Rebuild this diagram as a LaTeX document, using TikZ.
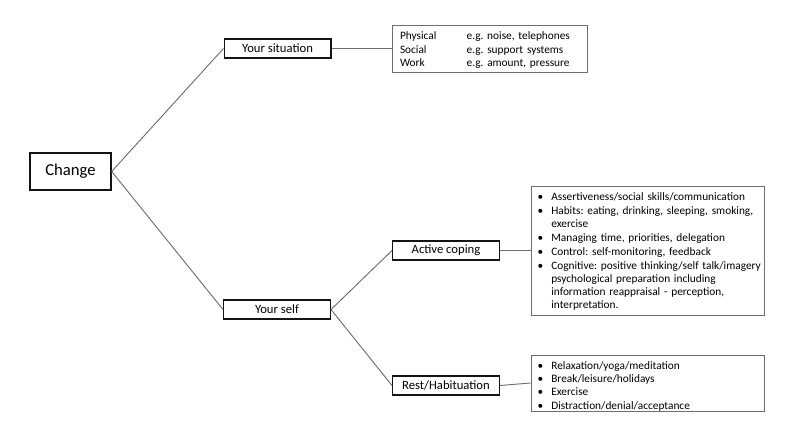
\documentclass[tikz,border=0pt]{standalone}
\usepackage{fontspec}
\setmainfont{Carlito}
\usetikzlibrary{positioning}
\frenchspacing
\definecolor{mydark}{RGB}{20,20,20}
\definecolor{mygrey}{RGB}{110,110,110}
\tikzset{
  catbox/.style={rectangle, draw=mydark, line width=1pt, minimum width=80pt, minimum height=14.25pt, inner sep=0pt, font=\fontsize{9.5}{11}\selectfont},
  infobox/.style={rectangle, draw=mygrey, line width=0.7pt, align=left, inner xsep=5pt, inner ysep=1pt, font=\fontsize{8.5}{10.2}\selectfont},
  line/.style={draw=mygrey, line width=0.7pt}
}
\newcommand{\bul}{\textbullet}
\newcommand{\lowered}[2]{\raisebox{-#1}[\height][\depth]{#2}}

\begin{document}
\begin{tikzpicture}[x=0.75pt, y=-0.75pt]
  \useasboundingbox (0,0) rectangle (800,443);

  % Main node
  \node[catbox, minimum width=60.75pt, minimum height=27.75pt, font=\fontsize{12.5}{14}\selectfont] (change) at (70.5,171.5) {Change};

  % Two branches
  \node[catbox] (situation) at (277.5,48.5) {Your situation};
  \node[catbox] (self) at (277,309.5) {Your self};

  % Coping strategies
  \node[catbox] (active) at (446,250.5) {Active coping};
  \node[catbox] (rest) at (446,385.5) {Rest/Habituation};

  % Detail boxes
  \node[infobox, inner xsep=6pt, text width=134.25pt, minimum height=35.25pt] (sitinfo) at (489.5,48.5) {%
    \lowered{1.5pt}{\begin{tabular}{@{}p{50pt}@{}l@{}}
      Physical & e.g. noise, telephones\\
      Social   & e.g. support systems\\
      Work     & e.g. amount, pressure
    \end{tabular}}};
  \node[infobox, text width=164.75pt, minimum height=96.75pt, font=\fontsize{8.5}{9.7}\selectfont] (activeinfo) at (647.5,250.5) {%
    \lowered{1.2pt}{\begin{tabular}{@{}l@{\hspace{6pt}}l@{}}
      \bul & Assertiveness/social skills/communication\\[0.8pt]
      \bul & Habits: eating, drinking, sleeping, smoking,\\
           & exercise\\[0.8pt]
      \bul & Managing time, priorities, delegation\\[0.8pt]
      \bul & Control: self-monitoring, feedback\\[0.8pt]
      \bul & Cognitive: positive thinking/self talk/imagery\\
           & psychological preparation including\\
           & information reappraisal - perception,\\
           & interpretation.
    \end{tabular}}};
  \node[infobox, text width=164.75pt, minimum height=42pt, font=\fontsize{8.5}{10}\selectfont] (restinfo) at (647.5,383) {%
    \lowered{2.6pt}{\begin{tabular}{@{}l@{\hspace{6pt}}l@{}}
      \bul & Relaxation/yoga/meditation\\
      \bul & Break/leisure/holidays\\
      \bul & Exercise\\
      \bul & Distraction/denial/acceptance
    \end{tabular}}};

  % Connectors
  \draw[line] (change.east) -- (situation.west);
  \draw[line] (change.east) -- (self.west);
  \draw[line] (situation.east) -- (sitinfo.west);
  \draw[line] (self.east) -- (active.west);
  \draw[line] (self.east) -- (rest.west);
  \draw[line] (active.east) -- (activeinfo.west);
  \draw[line] (rest.east) -- (restinfo.west);
\end{tikzpicture}
\end{document}
